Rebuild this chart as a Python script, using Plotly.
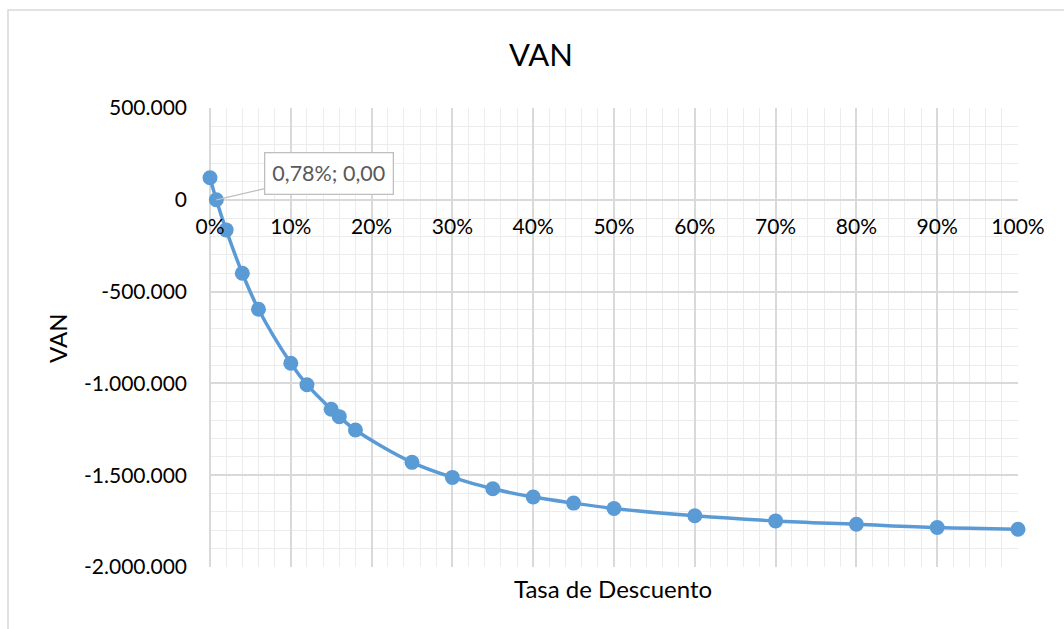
import plotly.graph_objects as go

# Discount rate (%) and net present value (VAN)
tasa = [0, 0.78, 2, 4, 6, 10, 12, 15, 16, 18, 25, 30, 35, 40, 45, 50, 60, 70, 80, 90, 100]
van = [120000, 0, -164000, -400000, -596000, -890000, -1007000, -1141000, -1181000,
       -1254000, -1430000, -1512000, -1574000, -1619000, -1652000, -1681000,
       -1721000, -1749000, -1767000, -1785000, -1794000]

x_ticks = [0, 10, 20, 30, 40, 50, 60, 70, 80, 90, 100]
x_ticktext = ["0%", "10%", "20%", "30%", "40%", "50%", "60%", "70%", "80%", "90%", "100%"]
y_ticks = [500000, 0, -500000, -1000000, -1500000, -2000000]
y_ticktext = ["500.000", "0", "-500.000", "-1.000.000", "-1.500.000", "-2.000.000"]

# Labelled point (internal rate of return)
tir_x = 0.78
tir_y = 0.0

FONT = "Lato, Calibri, 'Noto Sans', sans-serif"
BLUE = "#5b9bd5"
MAJOR = "#d9d9d9"
MINOR = "#ececec"

W, H = 1064, 629
ML, MR, MT, MB = 210, 46, 108, 62
pw, ph = W - ML - MR, H - MT - MB


def px_to_paper_x(px):
    return (px - ML) / pw


def px_to_paper_y(py):
    return (H - MB - py) / ph


fig = go.Figure()
fig.add_trace(go.Scatter(
    x=tasa, y=van, mode="lines+markers",
    line=dict(color=BLUE, width=3.5, shape="spline"),
    marker=dict(color=BLUE, size=15),
    showlegend=False, cliponaxis=False,
))

label = f"{tir_x:.2f}".replace(".", ",") + "%; " + f"{tir_y:.2f}".replace(".", ",")
fig.add_annotation(
    x=tir_x, y=tir_y, xref="x", yref="y", text=label,
    showarrow=True, arrowhead=0, arrowwidth=1.3, arrowcolor="#bfbfbf",
    ax=113, ay=-26, bgcolor="white", bordercolor="#bfbfbf", borderwidth=1.3,
    borderpad=7, font=dict(family=FONT, size=21.5, color="#595959"),
)

# Axis titles
fig.add_annotation(
    x=px_to_paper_x(613), y=px_to_paper_y(588), xref="paper", yref="paper",
    xanchor="center", yanchor="middle",
    text="Tasa de Descuento", showarrow=False,
    font=dict(family=FONT, size=24, color="black"),
)
fig.add_annotation(
    x=px_to_paper_x(57), y=px_to_paper_y(338), xref="paper", yref="paper",
    xanchor="center", yanchor="middle",
    text="VAN", showarrow=False, textangle=-90,
    font=dict(family=FONT, size=24, color="black"),
)

# Chart frame
fig.add_shape(
    type="rect", xref="paper", yref="paper",
    x0=px_to_paper_x(8), y0=px_to_paper_y(640), x1=px_to_paper_x(1080), y1=px_to_paper_y(10),
    line=dict(color="#d9d9d9", width=1.5), fillcolor="rgba(0,0,0,0)", layer="below",
)

fig.update_layout(
    width=W, height=H,
    margin=dict(l=ML, r=MR, t=MT, b=MB),
    paper_bgcolor="white", plot_bgcolor="white",
    font=dict(family=FONT, size=21, color="black"),
    title=dict(text="VAN", xref="container", yref="container",
               x=541 / W, y=1 - 55 / H, xanchor="center", yanchor="middle",
               font=dict(family=FONT, size=31, color="black")),
    xaxis=dict(
        range=[0, 100], tickvals=x_ticks, ticktext=x_ticktext,
        anchor="free", position=0.8, showline=False, ticks="",
        ticklabelstandoff=12,
        showgrid=True, gridcolor=MAJOR, gridwidth=1.5,
        zeroline=True, zerolinecolor=MAJOR, zerolinewidth=1.5,
        minor=dict(dtick=2, showgrid=True, gridcolor=MINOR, gridwidth=1.2),
        tickfont=dict(family=FONT, size=21, color="black"),
    ),
    yaxis=dict(
        range=[-2000000, 500000], tickvals=y_ticks, ticktext=y_ticktext,
        showline=False, ticks="", ticklabelstandoff=22,
        showgrid=True, gridcolor=MAJOR, gridwidth=1.5,
        zeroline=True, zerolinecolor=MAJOR, zerolinewidth=1.5,
        minor=dict(dtick=100000, showgrid=True, gridcolor=MINOR, gridwidth=1.2),
        tickfont=dict(family=FONT, size=21, color="black"),
    ),
)

fig.write_html("out.html")
